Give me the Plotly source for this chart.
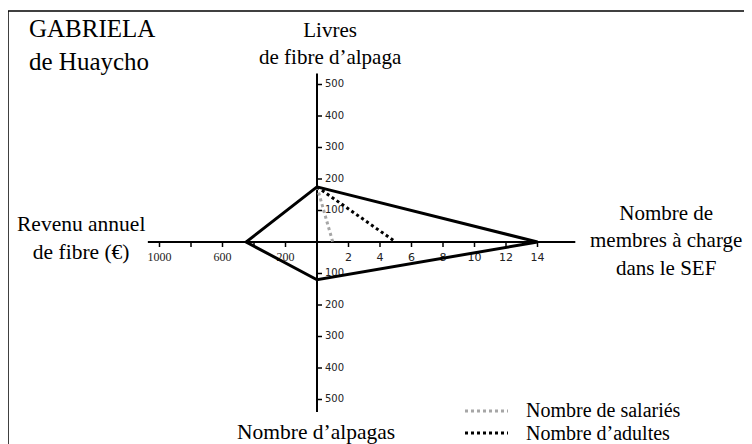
import plotly.graph_objects as go

# GABRIELA de Huaycho - valeurs sur chaque branche
revenu = 450      # Revenu annuel de fibre (€)  -> gauche
livres = 175      # Livres de fibre d'alpaga    -> haut
membres = 14      # Nombre de membres à charge  -> droite
alpagas = 120     # Nombre d'alpagas            -> bas
salaries = 1      # Nombre de salariés          -> droite (pointillé gris)
adultes = 5       # Nombre d'adultes            -> droite (pointillé noir)

left_ticks = [200, 400, 600, 800, 1000]
left_labels = ["200", "", "600", "", "1000"]
right_ticks = [2, 4, 6, 8, 10, 12, 14]
top_ticks = [100, 200, 300, 400, 500]
bottom_ticks = [100, 200, 300, 400, 500]

# value of one grid step on each branch
STEP_L, STEP_R, STEP_T, STEP_B = 200, 2, 100, 100
# axis lengths in grid steps
LEN_L, LEN_R, LEN_T, LEN_B = 5.37, 8.2, 5.35, 5.4

# the page puts the figure 8px in from the top-left corner
OFF = 8
W, H = 752 - OFF, 444 - OFF
PX = 31.5                      # pixels per grid step
CX, CY = 317 - OFF, 242 - OFF  # origin, in figure pixels
TICK = 5 / PX


def pos(px, py):
    # page pixel -> paper coords
    return (px - OFF) / W, 1 - (py - OFF) / H


fig = go.Figure()

# axes
fig.add_trace(go.Scatter(
    x=[-LEN_L, LEN_R, None, 0, 0], y=[0, 0, None, LEN_T, -LEN_B],
    mode="lines", line=dict(color="black", width=2), hoverinfo="skip"))

# tick marks
tx, ty = [], []
for v in left_ticks:
    tx += [-v / STEP_L, -v / STEP_L, None]
    ty += [0, -TICK, None]
for v in right_ticks:
    tx += [v / STEP_R, v / STEP_R, None]
    ty += [0, -TICK, None]
for v in top_ticks:
    tx += [0, TICK, None]
    ty += [v / STEP_T, v / STEP_T, None]
for v in bottom_ticks:
    tx += [0, TICK, None]
    ty += [-v / STEP_B, -v / STEP_B, None]
fig.add_trace(go.Scatter(x=tx, y=ty, mode="lines",
                         line=dict(color="black", width=1.5), hoverinfo="skip"))

# tick labels
lab_y = -16 / PX
fig.add_trace(go.Scatter(
    x=[-v / STEP_L for v in left_ticks], y=[lab_y] * len(left_ticks),
    mode="text", text=left_labels,
    textfont=dict(family="Liberation Serif", size=12, color="#222")))
fig.add_trace(go.Scatter(
    x=[v / STEP_R for v in right_ticks], y=[lab_y] * len(right_ticks),
    mode="text", text=[str(v) for v in right_ticks],
    textfont=dict(family="DejaVu Sans", size=11, color="#222")))
fig.add_trace(go.Scatter(
    x=[8 / PX] * len(top_ticks), y=[v / STEP_T for v in top_ticks],
    mode="text", text=[str(v) for v in top_ticks], textposition="middle right",
    textfont=dict(family="DejaVu Sans", size=10, color="#222")))
fig.add_trace(go.Scatter(
    x=[8 / PX] * len(bottom_ticks), y=[-v / STEP_B for v in bottom_ticks],
    mode="text", text=[str(v) for v in bottom_ticks], textposition="middle right",
    textfont=dict(family="DejaVu Sans", size=10, color="#222")))

# dotted lines from the top vertex
fig.add_trace(go.Scatter(
    x=[0, salaries / STEP_R], y=[livres / STEP_T, 0], mode="lines",
    line=dict(color="#a6a6a6", width=3, dash="dot"), name="Nombre de salariés"))
fig.add_trace(go.Scatter(
    x=[0, adultes / STEP_R], y=[livres / STEP_T, 0], mode="lines",
    line=dict(color="black", width=3, dash="dot"), name="Nombre d'adultes"))

# main polygon
fig.add_trace(go.Scatter(
    x=[0, membres / STEP_R, 0, -revenu / STEP_L, 0],
    y=[livres / STEP_T, 0, -alpagas / STEP_B, 0, livres / STEP_T],
    mode="lines", line=dict(color="black", width=3), hoverinfo="skip"))

serif = "Liberation Serif"
ann = []


def text(s, px, py, size, anchor="center"):
    x, y = pos(px, py)
    ann.append(dict(text=s, x=x, y=y, xref="paper", yref="paper",
                    xanchor=anchor, yanchor="middle", showarrow=False,
                    align=anchor,
                    font=dict(family=serif, size=size, color="black")))


text("GABRIELA<br>de Huaycho", 27, 45, 25, "left")
text("Livres<br>de fibre d’alpaga", 330, 43, 21)
text("Revenu annuel<br>de fibre (€)", 81, 238, 21.5)
text("Nombre de<br>membres à charge<br>dans le SEF", 666, 240, 21)
text("Nombre d’alpagas", 316, 432, 21.5)
text("Nombre de salariés", 524, 410, 20, "left")
text("Nombre d’adultes", 524, 433, 20, "left")

shapes = []
# frame (top and left edges only)
x0, y0 = pos(8, 11)
shapes.append(dict(type="line", xref="paper", yref="paper", x0=x0, y0=y0, x1=1, y1=y0,
                   line=dict(color="black", width=1.5)))
shapes.append(dict(type="line", xref="paper", yref="paper", x0=x0, y0=y0, x1=x0, y1=0,
                   line=dict(color="black", width=1.5)))
# legend swatches
for py, col in [(411, "#a6a6a6"), (433, "black")]:
    a, b = pos(465, py)
    c, _ = pos(508, py)
    shapes.append(dict(type="line", xref="paper", yref="paper", x0=a, y0=b, x1=c, y1=b,
                       line=dict(color=col, width=3, dash="dot")))

fig.update_layout(
    width=W, height=H, autosize=False,
    margin=dict(l=0, r=0, t=0, b=0),
    paper_bgcolor="white", plot_bgcolor="white",
    showlegend=False,
    xaxis=dict(range=[-CX / PX, (W - CX) / PX], visible=False, fixedrange=True),
    yaxis=dict(range=[-(H - CY) / PX, CY / PX], visible=False, fixedrange=True),
    annotations=ann, shapes=shapes,
)

fig.write_html("out.html")
